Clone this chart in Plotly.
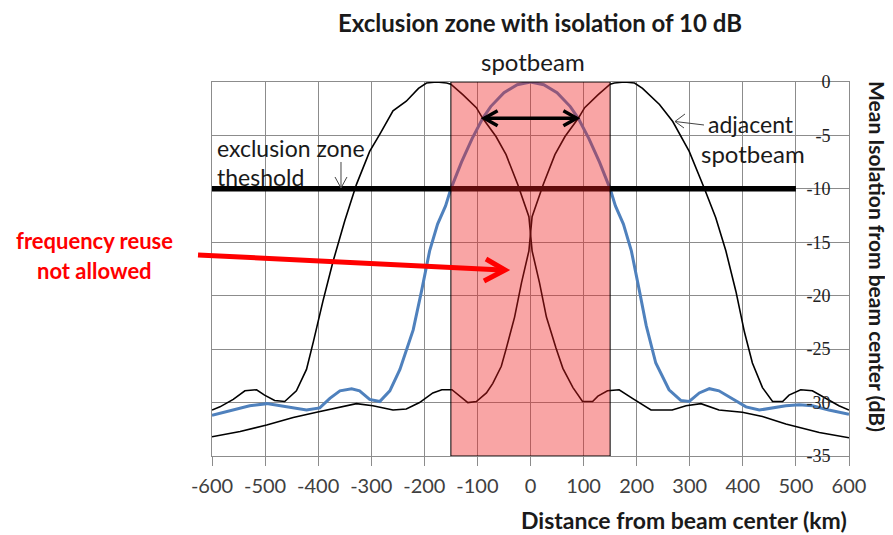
import plotly.graph_objects as go

# ---------------- data ----------------
spot_x = [-600, -566, -529, -497, -452, -422, -397, -378, -359, -337, -322, -303, -284, -265, -246,
          -221, -205, -190, -175, -160, -150, -130, -110, -90, -75, -50, -25, 0,
          25, 50, 75, 90, 110, 130, 150, 160, 175, 190, 205, 218, 236, 261, 283, 299, 318, 337,
          355, 380, 406, 431, 456, 481, 506, 531, 562, 600]
spot_db = [-31.2, -30.8, -30.3, -30.1, -30.5, -30.7, -30.5, -29.6, -28.9, -28.7, -28.9, -29.7, -29.9, -28.9, -26.9,
           -23.2, -19.5, -15.8, -13.3, -11.6, -10.0, -7.5, -5.3, -3.4, -2.3, -1.0, -0.25, 0.0,
           -0.25, -1.0, -2.3, -3.4, -5.3, -7.5, -10.0, -11.6, -13.3, -15.8, -19.5, -22.8, -26.3, -28.8, -29.8, -29.9, -29.1, -28.7,
           -28.9, -29.6, -30.4, -30.7, -30.5, -30.3, -30.2, -30.3, -30.7, -31.1]

adj_left_x = [-600, -585, -560, -538, -516, -501, -482, -463, -441, -422, -409, -391, -372, -350, -328,
              -303, -284, -259, -234, -211, -196, -177, -158, -150, -127, -102, -90, -65, -46, -24,
              -3, 0, 3, 17, 30, 48, 61, 80, 98, 117, 127, 145, 167, 192, 227, 267, 293, 321, 355,
              399, 437, 481, 544, 600]
adj_left_db = [-30.7, -30.4, -29.7, -28.9, -28.8, -29.3, -29.8, -29.9, -28.9, -26.9, -24.3, -20.5, -16.8, -13.0, -9.6,
               -6.5, -4.9, -2.7, -1.8, -0.6, -0.1, 0.0, -0.1, -0.2, -1.2, -2.4, -3.4, -5.1, -6.8, -9.6,
               -12.6, -14.2, -15.8, -18.8, -22.0, -24.9, -26.8, -28.6, -29.9, -29.9, -29.4, -28.9, -28.8, -29.6, -30.7, -30.7, -30.3, -30.1, -30.7,
               -30.9, -31.3, -32.0, -32.8, -33.3]

adj_right_x = [-600, -547, -497, -447, -403, -359, -328, -297, -259, -234, -209, -184, -167, -148,
               -134, -118, -102, -83, -71, -55, -46, -30, -17, -3, 0, 3, 24, 46, 65, 90, 102, 127,
               150, 158, 177, 196, 211, 243, 268, 299, 327, 349, 368, 387, 403, 418, 437, 456,
               475, 487, 509, 531, 556, 581, 600]
adj_right_db = [-33.2, -32.7, -32.1, -31.4, -30.9, -30.4, -30.1, -30.3, -30.7, -30.6, -30.0, -29.1, -28.8, -28.8,
                -29.4, -30.0, -29.9, -29.1, -28.2, -26.6, -25.0, -22.0, -18.8, -15.8, -14.2, -12.6, -9.6, -6.8, -5.1, -3.4, -2.4, -1.2,
                -0.2, -0.1, 0.0, -0.1, -0.6, -2.1, -3.7, -6.5, -9.9, -12.7, -15.8, -19.6, -23.4, -26.3, -28.6, -29.9,
                -29.9, -29.3, -28.8, -28.9, -29.6, -30.3, -30.7]

threshold_db = -10
threshold_x = [-600, 500]
exclusion_zone = [-150, 150]
arrow_db = -3.4          # level of the double arrow between beam crossings
arrow_span = [-87, 87]   # crossing points of spotbeam and adjacent beams

x_ticks = [-600, -500, -400, -300, -200, -100, 0, 100, 200, 300, 400, 500, 600]
y_ticks = [0, -5, -10, -15, -20, -25, -30, -35]

# ---------------- layout helpers ----------------
# reference-image pixel geometry of the plot area
RL, RT, RR, RB = 212, 82, 849, 456
OFF = 8  # page body margin of the html page
W, H = 893 - OFF, 535 - OFF
PW, PH = RR - RL, RB - RT


def pxx(p):
    return (p - RL) / PW


def pxy(p):
    return (RB - p) / PH


def path(points):
    return "M " + " L ".join(f"{x:.5f},{y:.5f}" for x, y in points)


SANS = "Lato, 'Open Sans', sans-serif"
SERIF = "'Liberation Serif', 'DejaVu Serif', serif"
GRID = "#8c8c8c"

fig = go.Figure()
fig.add_trace(go.Scatter(x=spot_x, y=spot_db, mode="lines",
                         line=dict(color="#4F81BD", width=3), name="spotbeam"))
fig.add_trace(go.Scatter(x=adj_left_x, y=adj_left_db, mode="lines",
                         line=dict(color="#000000", width=1.6), name="adjacent left"))
fig.add_trace(go.Scatter(x=adj_right_x, y=adj_right_db, mode="lines",
                         line=dict(color="#000000", width=1.6), name="adjacent right"))
fig.add_trace(go.Scatter(x=threshold_x, y=[threshold_db, threshold_db], mode="lines",
                         line=dict(color="#000000", width=5.5), name="threshold"))

# exclusion zone rectangle, drawn above the curves (semi-transparent)
fig.add_shape(type="rect", xref="x", yref="y",
              x0=exclusion_zone[0], x1=exclusion_zone[1], y0=y_ticks[-1], y1=y_ticks[0],
              fillcolor="rgba(240,30,30,0.40)", line=dict(color="#000000", width=1), layer="above")

# double arrow (open chevron heads) between the crossings
hw, hh = 25, 0.7
fig.add_shape(type="line", xref="x", yref="y", x0=arrow_span[0], x1=arrow_span[1],
              y0=arrow_db, y1=arrow_db, line=dict(color="#000000", width=3.5), layer="above")
fig.add_shape(type="path", xref="x", yref="y", layer="above",
              path=path([(arrow_span[0] + hw, arrow_db + hh), (arrow_span[0], arrow_db),
                         (arrow_span[0] + hw, arrow_db - hh)]),
              line=dict(color="#000000", width=3.5))
fig.add_shape(type="path", xref="x", yref="y", layer="above",
              path=path([(arrow_span[1] - hw, arrow_db + hh), (arrow_span[1], arrow_db),
                         (arrow_span[1] - hw, arrow_db - hh)]),
              line=dict(color="#000000", width=3.5))

# red arrow
fig.add_shape(type="path", xref="paper", yref="paper", layer="above",
              path=path([(pxx(198), pxy(255)), (pxx(502), pxy(270))]),
              line=dict(color="#FF0000", width=5))
fig.add_shape(type="path", xref="paper", yref="paper", layer="above",
              path=path([(pxx(486), pxy(259)), (pxx(505), pxy(270)), (pxx(484), pxy(281))]),
              line=dict(color="#FF0000", width=5))

# small pointer arrows
fig.add_shape(type="path", xref="paper", yref="paper", layer="above",
              path=path([(pxx(341), pxy(162)), (pxx(341), pxy(188))]),
              line=dict(color="#444444", width=1))
fig.add_shape(type="path", xref="paper", yref="paper", layer="above",
              path=path([(pxx(335), pxy(177)), (pxx(341), pxy(188)), (pxx(347), pxy(177))]),
              line=dict(color="#444444", width=1))
fig.add_shape(type="path", xref="paper", yref="paper", layer="above",
              path=path([(pxx(704), pxy(125)), (pxx(675), pxy(121.5))]),
              line=dict(color="#444444", width=1))
fig.add_shape(type="path", xref="paper", yref="paper", layer="above",
              path=path([(pxx(685), pxy(114)), (pxx(675), pxy(121.5)), (pxx(684), pxy(128))]),
              line=dict(color="#444444", width=1))


def txt(text, x, y, size, color="#1a1a1a", xanchor="left", bold=False, angle=0):
    t = f"<b>{text}</b>" if bold else text
    return dict(text=t, x=pxx(x), y=pxy(y), xref="paper", yref="paper", showarrow=False,
                xanchor=xanchor, yanchor="middle", textangle=angle,
                font=dict(family=SANS, size=size, color=color))


annotations = [
    txt("spotbeam", 533, 61, 24, xanchor="center"),
    txt("exclusion zone", 215, 148, 23),
    txt("theshold", 215, 177, 23),
    txt("adjacent", 706, 124, 23),
    txt("spotbeam", 699, 153, 24),
    txt("frequency reuse", 94, 240, 22, color="#FF0000", xanchor="center", bold=True),
    txt("not allowed", 94, 270, 22, color="#FF0000", xanchor="center", bold=True),
    txt("Distance from beam center (km)", 684, 520, 23, xanchor="center", bold=True),
    txt("Mean Isolation from beam center (dB)", 878, 256, 21, xanchor="center", bold=True, angle=90),
]

fig.update_layout(
    width=W, height=H,
    margin=dict(l=RL - OFF, r=W - (RR - OFF), t=RT - OFF, b=H - (RB - OFF), pad=0),
    paper_bgcolor="#ffffff", plot_bgcolor="#ffffff",
    showlegend=False,
    title=dict(text="<b>Exclusion zone with isolation of 10 dB</b>", x=pxx(540), xanchor="center",
               y=1 - (24 - OFF) / H, yanchor="middle", xref="paper",
               font=dict(family=SANS, size=24, color="#1a1a1a")),
    annotations=annotations,
    xaxis=dict(range=[-600, 600], tickvals=x_ticks, ticktext=[str(v) for v in x_ticks],
               showgrid=True, gridcolor=GRID, gridwidth=1, zeroline=False,
               ticks="outside", ticklen=9, tickcolor=GRID, tickwidth=1,
               ticklabelstandoff=3,
               showline=True, linecolor=GRID, linewidth=1, mirror=True,
               tickfont=dict(family=SANS, size=20, color="#404040")),
    yaxis=dict(range=[-35, 0], tickvals=y_ticks, ticktext=[str(v) for v in y_ticks],
               side="right", showgrid=True, gridcolor=GRID, gridwidth=1, zeroline=False,
               ticks="", ticklabelposition="inside", ticklabeloverflow="allow",
               ticklabelstandoff=19,
               showline=True, linecolor=GRID, linewidth=1, mirror=True,
               tickfont=dict(family=SERIF, size=18, color="#222222")),
)

fig.write_html("out.html")
